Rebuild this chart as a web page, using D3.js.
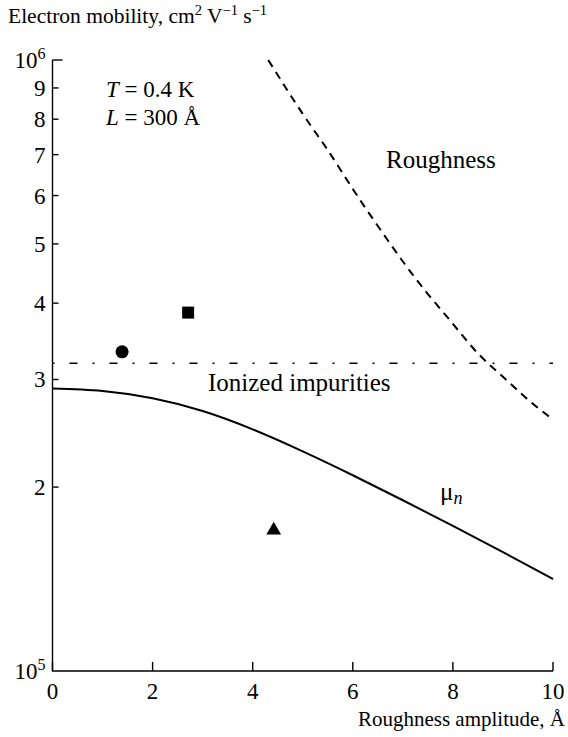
<!DOCTYPE html>
<html>
<head>
<meta charset="utf-8">
<script src="https://cdn.jsdelivr.net/npm/d3@7"></script>
<style>
  html, body { margin: 0; padding: 0; background: #fff; }
  svg text { font-family: "Liberation Serif", "Times New Roman", serif; fill: #000; }
</style>
</head>
<body>
<svg id="chart" width="568" height="737"></svg>
<script>
// Roughness amplitude (Å) grid for the total mobility curve
const amplitude = [0, 1, 2, 3, 4, 5, 6, 7, 8, 9, 10];

// Total mobility μn (cm² V⁻¹ s⁻¹)
const muTotal = [2.90e5, 2.873e5, 2.795e5, 2.664e5, 2.486e5, 2.288e5, 2.091e5, 1.903e5, 1.728e5, 1.565e5, 1.414e5];

// Roughness-limited mobility (dashed)
const roughX = [4.31, 5, 5.5, 6, 6.5, 7, 7.5, 8, 8.5, 9, 9.5, 10];
const roughMu = [1.0e6, 8.16e5, 7.12e5, 6.15e5, 5.35e5, 4.68e5, 4.14e5, 3.70e5, 3.31e5, 3.03e5, 2.78e5, 2.58e5];

// Ionized-impurity limited mobility (dash-dot, constant)
const impurityMu = 3.19e5;

// Experimental points
const pointShapes = ["circle", "square", "triangle"];
const pointX = [1.39, 2.71, 4.42];
const pointMu = [3.33e5, 3.86e5, 1.70e5];

const yTickValues = [2e5, 3e5, 4e5, 5e5, 6e5, 7e5, 8e5, 9e5];
const yTickLabels = ["2", "3", "4", "5", "6", "7", "8", "9"];
const xTickValues = [0, 2, 4, 6, 8, 10];

const svg = d3.select("#chart");
const mLeft = 52.5, mRight = 553, mTop = 60, mBottom = 671;

const x = d3.scaleLinear().domain([0, 10]).range([mLeft, mRight]);
const y = d3.scaleLog().domain([1e5, 1e6]).range([mBottom, mTop]);

const FS_TITLE = 21.5; // axis titles
const FS_TICK = 23;    // tick labels
const FS_NOTE = 25;    // curve labels inside the plot

// Axes
const axisG = svg.append("g").attr("stroke", "#000").attr("stroke-width", 1.4).attr("fill", "none");
axisG.append("path").attr("d", `M${mLeft},${mTop}V${mBottom}H${mRight}`);
// top major tick
axisG.append("line").attr("x1", mLeft).attr("x2", mLeft + 10).attr("y1", y(1e6)).attr("y2", y(1e6));
// minor y ticks
axisG.selectAll("line.ytick").data(yTickValues).enter().append("line")
  .attr("class", "ytick")
  .attr("x1", mLeft).attr("x2", mLeft + 6)
  .attr("y1", d => y(d)).attr("y2", d => y(d));
// x ticks
axisG.selectAll("line.xtick").data(xTickValues).enter().append("line")
  .attr("class", "xtick")
  .attr("x1", d => x(d)).attr("x2", d => x(d))
  .attr("y1", mBottom).attr("y2", mBottom - 9);

// y tick labels
svg.selectAll("text.ylab").data(yTickValues).enter().append("text")
  .attr("class", "ylab")
  .attr("x", mLeft - 7).attr("y", d => y(d) + 8)
  .attr("text-anchor", "end").attr("font-size", FS_TICK)
  .text((d, i) => yTickLabels[i]);

// decade labels
function decade(lbl, exp, yy) {
  const t = svg.append("text").attr("x", mLeft - 7).attr("y", yy).attr("text-anchor", "end").attr("font-size", FS_TICK);
  t.append("tspan").text(lbl);
  t.append("tspan").attr("dy", -9).attr("font-size", 16).text(exp);
}
decade("10", "6", y(1e6) + 8);
decade("10", "5", y(1e5) + 8);

// x tick labels
svg.selectAll("text.xlab").data(xTickValues).enter().append("text")
  .attr("class", "xlab")
  .attr("x", d => x(d)).attr("y", mBottom + 28)
  .attr("text-anchor", "middle").attr("font-size", FS_TICK)
  .text(d => d);

// axis titles
const yt = svg.append("text").attr("x", 8).attr("y", 23).attr("font-size", FS_TITLE);
yt.append("tspan").text("Electron mobility, cm");
yt.append("tspan").attr("dy", -8).attr("font-size", 14.5).text("2");
yt.append("tspan").attr("dy", 8).text(" V");
yt.append("tspan").attr("dy", -8).attr("font-size", 14.5).text("\u22121");
yt.append("tspan").attr("dy", 8).text(" s");
yt.append("tspan").attr("dy", -8).attr("font-size", 14.5).text("\u22121");

svg.append("text").attr("x", 565).attr("y", 726).attr("text-anchor", "end")
  .attr("font-size", 21).text("Roughness amplitude, \u00C5");

// Curves
const line = d3.line().x(d => x(d[0])).y(d => y(d[1])).curve(d3.curveNatural);

svg.append("path")
  .attr("d", line(amplitude.map((a, i) => [a, muTotal[i]])))
  .attr("fill", "none").attr("stroke", "#000").attr("stroke-width", 2);

svg.append("path")
  .attr("d", line(roughX.map((a, i) => [a, roughMu[i]])))
  .attr("fill", "none").attr("stroke", "#000").attr("stroke-width", 2)
  .attr("stroke-dasharray", "8,6");

svg.append("line")
  .attr("x1", x(0)).attr("x2", x(10))
  .attr("y1", y(impurityMu)).attr("y2", y(impurityMu))
  .attr("stroke", "#000").attr("stroke-width", 1.6)
  .attr("stroke-dasharray", "2,15,8,15");

// Experimental points
const sym = {
  circle: d3.symbol().type(d3.symbolCircle).size(135),
  square: d3.symbol().type(d3.symbolSquare).size(144),
  triangle: d3.symbol().type(d3.symbolTriangle).size(95)
};
svg.selectAll("path.pt").data(pointX).enter().append("path")
  .attr("class", "pt")
  .attr("transform", (d, i) => `translate(${x(d)},${y(pointMu[i])})`)
  .attr("d", (d, i) => sym[pointShapes[i]]())
  .attr("fill", "#000");

// Annotations
const t1 = svg.append("text").attr("x", 106).attr("y", 97).attr("font-size", 23);
t1.append("tspan").attr("font-style", "italic").text("T");
t1.append("tspan").text(" = 0.4 K");
const t2 = svg.append("text").attr("x", 106).attr("y", 125).attr("font-size", 23);
t2.append("tspan").attr("font-style", "italic").text("L");
t2.append("tspan").text(" = 300 \u00C5");

svg.append("text").attr("x", 386).attr("y", 168).attr("font-size", FS_NOTE).text("Roughness");
svg.append("text").attr("x", 208).attr("y", 391).attr("font-size", FS_NOTE).text("Ionized impurities");

const mu = svg.append("text").attr("x", 440).attr("y", 500).attr("font-size", FS_NOTE);
mu.append("tspan").text("\u03BC");
mu.append("tspan").attr("dy", 4).attr("font-style", "italic").attr("font-size", 18).text("n");
</script>
</body>
</html>
